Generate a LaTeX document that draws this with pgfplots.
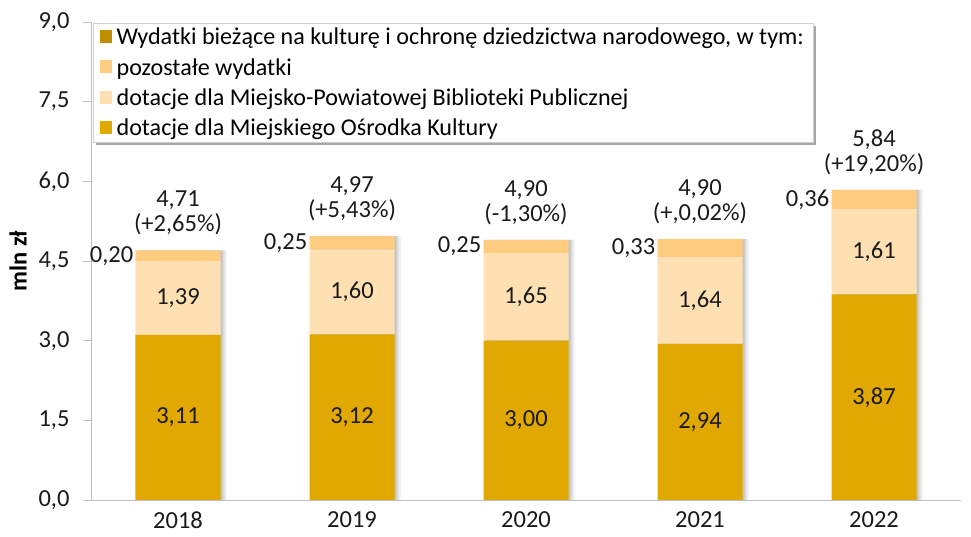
\documentclass[border=0pt]{standalone}
\usepackage{fontspec}
\setmainfont{Carlito}
\usepackage{pgfplots}
\usepackage{pgfplotstable}
\pgfplotsset{compat=1.18}
\usetikzlibrary{shadows,backgrounds}

\definecolor{mokC}{HTML}{E0A800}
\definecolor{mbpC}{HTML}{FFE0B3}
\definecolor{pozC}{HTML}{FFCC80}
\definecolor{headC}{HTML}{BF8F00}
\definecolor{axisC}{HTML}{BFBFBF}
\definecolor{inkC}{HTML}{1A1A1A}

\newcommand\labfont{\fontsize{24.5}{25}\selectfont}
\newcommand\legfont{\fontsize{24.1}{26}\selectfont}

% segments in mln zl; lbl = total and change
\pgfplotstableread{
x mok mbp poz lbl
0 3.11 1.39 0.20 {4,71\\(+2,65\%)}
1 3.12 1.60 0.25 {4,97\\(+5,43\%)}
2 3.00 1.65 0.25 {4,90\\(-1,30\%)}
3 2.94 1.64 0.33 {4,90\\(+,0,02\%)}
4 3.87 1.61 0.36 {5,84\\(+19,20\%)}
}\dataset

\pgfplotsset{
  geom/.style={
    at={(0,0)}, anchor=south west,
    scale only axis, width=870pt, height=478pt,
    xmin=-0.5, xmax=4.5, ymin=0, ymax=9,
    /pgf/number format/assume math mode=true
  },
  barshadow/.style={
    drop shadow={shadow xshift=6pt, shadow yshift=0pt, opacity=0.12},
    drop shadow={shadow xshift=4pt, shadow yshift=0pt, opacity=0.18},
    drop shadow={shadow xshift=2pt, shadow yshift=0pt, opacity=0.25}
  },
  vlab/.style={
    draw=none, mark=none, point meta=explicit,
    nodes near coords={\pgfmathprintnumber[fixed,fixed zerofill,precision=2,use comma]{\pgfplotspointmeta}},
    nodes near coords style={font=\labfont, text=inkC, anchor=center}
  }
}

\begin{document}
\begin{tikzpicture}[x=1pt,y=1pt]
\useasboundingbox (-91,-37) rectangle (880,500);
\begin{axis}[
  geom,
  ybar stacked, bar width=85pt,
  axis x line*=bottom, axis y line*=left,
  axis line style={draw=axisC, line width=0.8pt, -},
  tick style={draw=axisC, line width=0.8pt},
  tick align=outside,
  major tick length=8pt,
  ytick={0,1.5,3,4.5,6,7.5,9},
  yticklabel={\pgfmathprintnumber[fixed,fixed zerofill,precision=1,use comma]{\tick}},
  yticklabel style={xshift=-10pt},
  scaled y ticks=false,
  xtick={0,1,2,3,4},
  xticklabels={2018,2019,2020,2021,2022},
  xtick style={draw=none},
  extra x ticks={-0.5,0.5,1.5,2.5,3.5,4.5},
  extra x tick labels={},
  extra x tick style={tick style={draw=axisC, line width=0.8pt}},
  ticklabel style={font=\labfont, text=inkC},
  ylabel={\bfseries mln zł},
  every axis y label/.style={at={(axis description cs:0,0.5)}, xshift=-73pt, rotate=90, anchor=center, font=\labfont, text=black},
  legend cell align=left,
  legend style={name=leg, at={(0.0023,0.998)}, anchor=north west, font=\legfont,
    draw=black!18, fill=white, inner xsep=7pt, inner ysep=3pt, row sep=8pt,
    /tikz/every odd column/.append style={column sep=3pt}},
]
\addlegendimage{legend image code/.code={\fill[headC] (0pt,-5pt) rectangle (11pt,7pt);}}
\addlegendentry{Wydatki bieżące na kulturę i ochronę dziedzictwa narodowego, w tym:}
\addlegendimage{legend image code/.code={\fill[pozC] (0pt,-5pt) rectangle (11pt,7pt);}}
\addlegendentry{pozostałe wydatki}
\addlegendimage{legend image code/.code={\fill[mbpC] (0pt,-5pt) rectangle (11pt,7pt);}}
\addlegendentry{dotacje dla Miejsko-Powiatowej Biblioteki Publicznej}
\addlegendimage{legend image code/.code={\fill[mokC] (0pt,-5pt) rectangle (11pt,7pt);}}
\addlegendentry{dotacje dla Miejskiego Ośrodka Kultury}

\addplot[forget plot, fill=mokC, draw=none, barshadow] table[x=x, y=mok] {\dataset};
\addplot[forget plot, fill=mbpC, draw=none, barshadow] table[x=x, y=mbp] {\dataset};
\addplot[forget plot, fill=pozC, draw=none, barshadow] table[x=x, y=poz] {\dataset};
\end{axis}

% legend shadow
\begin{scope}[on background layer]
  \fill[black, opacity=0.35] ([shift={(3pt,-3pt)}]leg.south west) rectangle ([shift={(3pt,-3pt)}]leg.north east);
\end{scope}

% value labels, placed on the same axes
\begin{axis}[geom, hide axis, clip=false]
\addplot[vlab] table[x=x, y expr=\thisrow{mok}/2, meta=mok] {\dataset};
\addplot[vlab] table[x=x, y expr=\thisrow{mok}+\thisrow{mbp}/2, meta=mbp] {\dataset};
\addplot[vlab, nodes near coords style={anchor=east, inner sep=1pt, xshift=-43.5pt}]
  table[x=x, y expr=\thisrow{mok}+\thisrow{mbp}+\thisrow{poz}/2, meta=poz] {\dataset};
\addplot[draw=none, mark=none, point meta=explicit symbolic, nodes near coords,
  nodes near coords style={font=\labfont, text=inkC, anchor=south, align=center, inner sep=0pt, yshift=15pt}]
  table[x=x, y expr=\thisrow{mok}+\thisrow{mbp}+\thisrow{poz}, meta=lbl] {\dataset};
\end{axis}
\end{tikzpicture}
\end{document}
